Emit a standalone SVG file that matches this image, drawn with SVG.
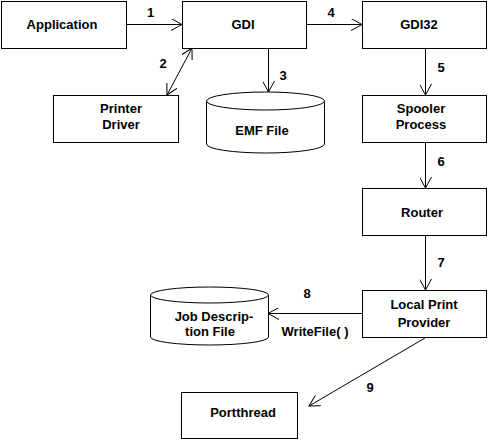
<svg xmlns="http://www.w3.org/2000/svg" width="489" height="441" viewBox="0 0 489 441">
<defs>
<style>
.b{fill:#fff;stroke:#000;stroke-width:1}
.t{font-family:"Liberation Sans",Arial,sans-serif;font-weight:bold;font-size:13px;fill:#000;text-anchor:middle}
.c{fill:none;stroke:#000;stroke-width:1}
</style>
<marker id="ah" viewBox="0 0 12 12" refX="11" refY="6" markerWidth="12" markerHeight="12" markerUnits="userSpaceOnUse" orient="auto-start-reverse">
<path d="M0,0 L11,6 L0,12" fill="none" stroke="#000" stroke-width="1"/>
</marker>
</defs>
<rect width="489" height="441" fill="#fff"/>
<g id="connectors">
<line class="c" x1="127" y1="24.5" x2="182" y2="24.5" marker-end="url(#ah)"/>
<line class="c" x1="192" y1="48" x2="167" y2="95" marker-start="url(#ah)" marker-end="url(#ah)"/>
<line class="c" x1="268.5" y1="48" x2="268.5" y2="92" marker-end="url(#ah)"/>
<line class="c" x1="307" y1="24.5" x2="362" y2="24.5" marker-end="url(#ah)"/>
<line class="c" x1="425.5" y1="48" x2="425.5" y2="95" marker-end="url(#ah)"/>
<line class="c" x1="425.5" y1="143" x2="425.5" y2="188" marker-end="url(#ah)"/>
<line class="c" x1="425.5" y1="236" x2="425.5" y2="290" marker-end="url(#ah)"/>
<line class="c" x1="362" y1="313.5" x2="268" y2="313.5" marker-end="url(#ah)"/>
<line class="c" x1="425" y1="338" x2="309" y2="406" marker-end="url(#ah)"/>
<text class="t" x="150.5" y="17">1</text>
<text class="t" x="163" y="68">2</text>
<text class="t" x="283" y="80">3</text>
<text class="t" x="331" y="17">4</text>
<text class="t" x="441" y="72">5</text>
<text class="t" x="441" y="166">6</text>
<text class="t" x="441" y="267">7</text>
<text class="t" x="307" y="298">8</text>
<text class="t" x="315" y="336">WriteFile( )</text>
<text class="t" x="370" y="392">9</text>
</g>
<g id="application">
<rect class="b" x="1.5" y="1.5" width="125" height="47"/>
<text class="t" x="62" y="29">Application</text>
</g>
<g id="gdi">
<rect class="b" x="182.5" y="1.5" width="124" height="47"/>
<text class="t" x="243" y="29">GDI</text>
</g>
<g id="gdi32">
<rect class="b" x="362.5" y="1.5" width="124" height="47"/>
<text class="t" x="419" y="29">GDI32</text>
</g>
<g id="printer-driver">
<rect class="b" x="53.5" y="95.5" width="125" height="47"/>
<text class="t" x="121" y="113">Printer</text>
<text class="t" x="121" y="129">Driver</text>
</g>
<g id="emf-file">
<path class="b" d="M206.5,101 L206.5,144 A59,9 0 0 0 324.5,144 L324.5,101"/>
<ellipse class="b" cx="265.5" cy="101" rx="59" ry="9"/>
<text class="t" x="262" y="135">EMF File</text>
</g>
<g id="spooler-process">
<rect class="b" x="362.5" y="95.5" width="124" height="47"/>
<text class="t" x="421" y="113">Spooler</text>
<text class="t" x="421" y="129">Process</text>
</g>
<g id="router">
<rect class="b" x="362.5" y="188.5" width="124" height="47"/>
<text class="t" x="422" y="217">Router</text>
</g>
<g id="local-print-provider">
<rect class="b" x="362.5" y="290.5" width="124" height="47"/>
<text class="t" x="424" y="309">Local Print</text>
<text class="t" x="424" y="327">Provider</text>
</g>
<g id="job-description-file">
<path class="b" d="M150.5,295 L150.5,337 A59,8 0 0 0 268.5,337 L268.5,295"/>
<ellipse class="b" cx="209.5" cy="295" rx="59" ry="8"/>
<text class="t" x="214" y="321">Job Descrip-</text>
<text class="t" x="210" y="336">tion File</text>
</g>
<g id="portthread">
<rect class="b" x="181.5" y="392.5" width="116" height="46"/>
<text class="t" x="243" y="417">Portthread</text>
</g>
</svg>
